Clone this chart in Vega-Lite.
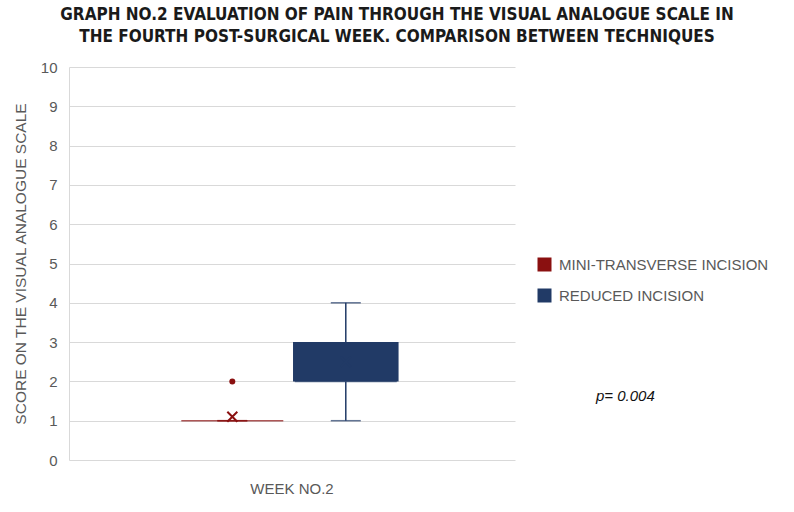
{
  "$schema": "https://vega.github.io/schema/vega-lite/v6.json",
  "width": 446,
  "height": 393,
  "autosize": {"type": "none"},
  "padding": {"left": 69, "top": 67, "right": 279, "bottom": 52},
  "background": "white",
  "title": {
    "text": ["GRAPH NO.2 EVALUATION OF PAIN THROUGH THE VISUAL ANALOGUE SCALE IN", "THE FOURTH POST-SURGICAL WEEK. COMPARISON BETWEEN TECHNIQUES"],
    "font": "Liberation Sans Narrow, DejaVu Sans Condensed, sans-serif",
    "fontSize": 17,
    "fontWeight": "bold",
    "color": "#1a1a1a",
    "lineHeight": 22,
    "anchor": "middle",
    "frame": "group",
    "dx": 105,
    "offset": 14
  },
  "datasets": {
    "stats": [
      {"week": "WEEK NO.2", "technique": "MINI-TRANSVERSE INCISION", "min": 1, "q1": 1, "median": 1, "q3": 1, "max": 1, "mean": 1.1},
      {"week": "WEEK NO.2", "technique": "REDUCED INCISION", "min": 1, "q1": 2, "median": 2, "q3": 3, "max": 4, "mean": 2.5}
    ],
    "outliers": [
      {"week": "WEEK NO.2", "technique": "MINI-TRANSVERSE INCISION", "score": 2}
    ],
    "notes": [
      {"note": "p= 0.004"}
    ]
  },
  "config": {
    "view": {"stroke": null},
    "font": "Liberation Sans",
    "axis": {"labelFont": "Liberation Sans", "titleFont": "Liberation Sans"},
    "axisY": {
      "titleFontSize": 15.5,
      "titleFontWeight": "normal",
      "titleColor": "#595959",
      "titlePadding": 12,
      "labelFontSize": 15,
      "labelColor": "#595959",
      "labelPadding": 12,
      "labelOverlap": false,
      "ticks": false,
      "tickCount": 12,
      "grid": true,
      "gridColor": "#d9d9d9",
      "gridWidth": 1,
      "domain": true,
      "domainColor": "#d9d9d9",
      "domainWidth": 1
    },
    "legend": {"symbolOpacity": 1}
  },
  "encoding": {
    "x": {
      "field": "week",
      "type": "nominal",
      "scale": {"paddingInner": 0, "paddingOuter": 0},
      "axis": {
        "title": null,
        "labelAngle": 0,
        "labelFontSize": 15,
        "labelColor": "#595959",
        "labelPadding": 21,
        "ticks": false,
        "domain": false,
        "grid": false
      }
    },
    "xOffset": {
      "field": "technique",
      "type": "nominal",
      "scale": {"domain": ["MINI-TRANSVERSE INCISION", "REDUCED INCISION"], "paddingInner": 0.07, "paddingOuter": 1.026, "align": 0.487}
    }
  },
  "layer": [
    {
      "data": {"name": "stats"},
      "mark": {"type": "bar"},
      "encoding": {
        "y": {
          "field": "q1",
          "type": "quantitative",
          "scale": {"domain": [0, 10], "nice": false},
          "axis": {"title": "SCORE ON THE VISUAL ANALOGUE SCALE", "values": [0, 1, 2, 3, 4, 5, 6, 7, 8, 9, 10], "tickCount": 12, "labelOverlap": false}
        },
        "y2": {"field": "q3"},
        "color": {
          "field": "technique",
          "type": "nominal",
          "scale": {"domain": ["MINI-TRANSVERSE INCISION", "REDUCED INCISION"], "range": ["#8a1010", "#213a66"]},
          "legend": {
            "title": null,
            "orient": "none",
            "legendX": 468,
            "legendY": 190,
            "symbolType": "square",
            "symbolSize": 196,
            "symbolStrokeWidth": 0,
            "symbolOpacity": 1,
            "labelFontSize": 15,
            "labelColor": "#595959",
            "labelOffset": 7,
            "labelLimit": 400,
            "rowPadding": 15,
            "padding": 0
          }
        }
      }
    },
    {
      "data": {"name": "stats"},
      "mark": {"type": "rule", "strokeWidth": 1.5},
      "encoding": {
        "y": {"field": "min", "type": "quantitative", "axis": {"title": "SCORE ON THE VISUAL ANALOGUE SCALE", "values": [0, 1, 2, 3, 4, 5, 6, 7, 8, 9, 10], "tickCount": 12, "labelOverlap": false}},
        "y2": {"field": "q1"},
        "color": {"field": "technique", "type": "nominal"}
      }
    },
    {
      "data": {"name": "stats"},
      "mark": {"type": "rule", "strokeWidth": 1.5},
      "encoding": {
        "y": {"field": "q3", "type": "quantitative", "axis": {"title": "SCORE ON THE VISUAL ANALOGUE SCALE", "values": [0, 1, 2, 3, 4, 5, 6, 7, 8, 9, 10], "tickCount": 12, "labelOverlap": false}},
        "y2": {"field": "max"},
        "color": {"field": "technique", "type": "nominal"}
      }
    },
    {
      "data": {"name": "stats"},
      "mark": {"type": "tick", "orient": "horizontal", "size": 30, "thickness": 1.5},
      "encoding": {
        "y": {"field": "min", "type": "quantitative", "axis": {"title": "SCORE ON THE VISUAL ANALOGUE SCALE", "values": [0, 1, 2, 3, 4, 5, 6, 7, 8, 9, 10], "tickCount": 12, "labelOverlap": false}},
        "color": {"field": "technique", "type": "nominal"}
      }
    },
    {
      "data": {"name": "stats"},
      "mark": {"type": "tick", "orient": "horizontal", "size": 30, "thickness": 1.5},
      "encoding": {
        "y": {"field": "max", "type": "quantitative", "axis": {"title": "SCORE ON THE VISUAL ANALOGUE SCALE", "values": [0, 1, 2, 3, 4, 5, 6, 7, 8, 9, 10], "tickCount": 12, "labelOverlap": false}},
        "color": {"field": "technique", "type": "nominal"}
      }
    },
    {
      "data": {"name": "stats"},
      "mark": {"type": "tick", "orient": "horizontal", "size": 102, "thickness": 1.6},
      "encoding": {
        "y": {"field": "median", "type": "quantitative", "axis": {"title": "SCORE ON THE VISUAL ANALOGUE SCALE", "values": [0, 1, 2, 3, 4, 5, 6, 7, 8, 9, 10], "tickCount": 12, "labelOverlap": false}},
        "color": {"field": "technique", "type": "nominal"}
      }
    },
    {
      "data": {"name": "stats"},
      "mark": {"type": "point", "shape": "M-1,-1L1,1M-1,1L1,-1", "size": 100, "strokeWidth": 2, "filled": false, "opacity": 1},
      "encoding": {
        "y": {"field": "mean", "type": "quantitative", "axis": {"title": "SCORE ON THE VISUAL ANALOGUE SCALE", "values": [0, 1, 2, 3, 4, 5, 6, 7, 8, 9, 10], "tickCount": 12, "labelOverlap": false}},
        "color": {"field": "technique", "type": "nominal"}
      }
    },
    {
      "data": {"name": "outliers"},
      "mark": {"type": "point", "shape": "circle", "filled": true, "size": 36, "opacity": 1},
      "encoding": {
        "y": {"field": "score", "type": "quantitative", "axis": {"title": "SCORE ON THE VISUAL ANALOGUE SCALE", "values": [0, 1, 2, 3, 4, 5, 6, 7, 8, 9, 10], "tickCount": 12, "labelOverlap": false}},
        "color": {"field": "technique", "type": "nominal"}
      }
    },
    {
      "data": {"name": "notes"},
      "mark": {"type": "point", "opacity": 0},
      "encoding": {
        "x": null,
        "xOffset": null,
        "shape": {
          "field": "note",
          "type": "nominal",
          "legend": {
            "title": null,
            "orient": "none",
            "legendX": 512,
            "legendY": 321,
            "symbolSize": 1,
            "symbolOpacity": 0,
            "labelOffset": 0,
            "labelFontSize": 15,
            "labelFontStyle": "italic",
            "labelColor": "#111111",
            "padding": 0
          }
        }
      }
    }
  ]
}
